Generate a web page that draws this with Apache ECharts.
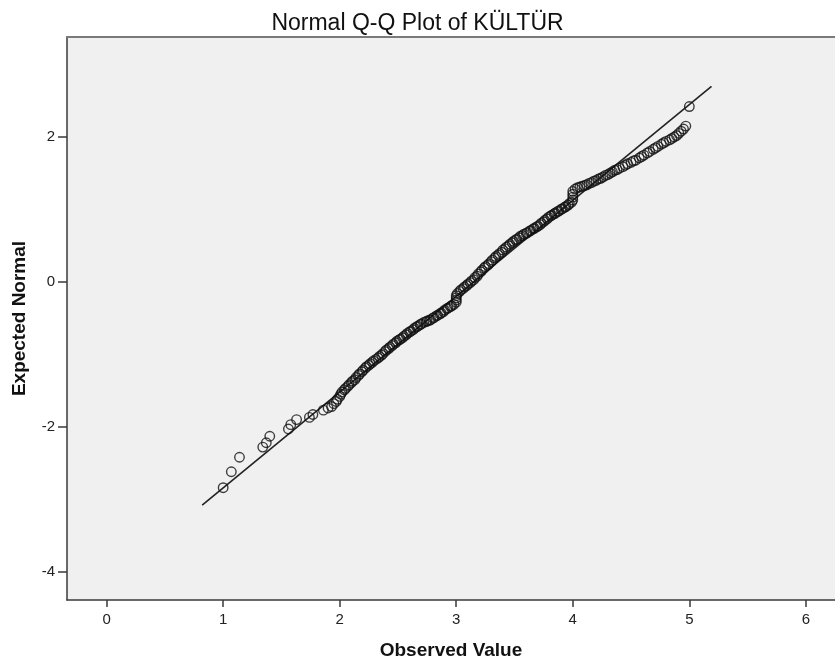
<!DOCTYPE html>
<html>
<head>
<meta charset="utf-8">
<script src="https://cdn.jsdelivr.net/npm/echarts@6/dist/echarts.min.js"></script>
<style>
html,body{margin:0;padding:0;background:#fff;}
#chart{width:835px;height:665px;}
</style>
</head>
<body>
<div id="chart"></div>
<script>
var titleText = "Normal Q-Q Plot of KÜLTÜR";
var xAxisTitle = "Observed Value";
var yAxisTitle = "Expected Normal";
var xTicks = [0, 1, 2, 3, 4, 5, 6];
var yTicks = [-4, -2, 0, 2];

var observed = [
  1.00,1.07,1.14,1.34,1.37,1.40,1.56,1.58,1.63,1.74,1.77,1.86,1.90,1.93,
  1.95,1.97,1.98,2.00,2.01,2.02,2.04,2.05,2.07,2.08,2.10,2.11,2.13,2.14,2.16,2.17,2.19,2.20,2.22,2.23,2.25,2.26,2.28,2.29,
  2.31,2.33,2.34,2.36,2.37,2.39,2.40,2.42,2.43,2.45,2.46,2.48,2.49,2.51,2.52,2.54,2.55,2.57,2.58,2.60,2.61,2.63,2.64,2.66,2.67,2.69,2.70,2.72,2.74,2.75,2.77,2.78,2.80,2.81,2.83,2.84,2.86,2.87,2.89,2.90,2.92,2.93,2.95,2.96,2.98,
  3.00,3.00,3.00,3.00,3.01,3.03,3.04,3.06,3.07,3.09,3.10,3.12,3.13,3.15,3.16,3.18,3.19,3.21,3.22,3.24,3.25,3.27,3.28,3.30,3.31,3.33,3.34,3.36,3.37,3.39,3.40,3.42,3.43,3.45,3.46,3.48,3.49,3.51,3.52,3.54,3.55,3.57,3.58,3.60,3.61,3.63,3.64,3.66,3.67,3.69,3.70,3.72,3.73,3.75,3.76,3.78,3.79,3.81,3.82,3.84,3.85,3.87,3.88,3.90,3.91,3.93,3.94,3.96,3.97,3.99,
  4.00,4.00,4.00,4.00,4.02,4.04,4.06,4.08,4.10,4.12,4.14,4.16,4.18,4.20,4.22,4.24,4.26,4.28,4.30,4.32,4.34,4.36,4.38,4.40,4.43,4.45,4.47,4.50,4.52,4.54,4.57,4.59,4.61,4.64,4.66,4.69,4.71,4.73,4.76,4.78,4.80,4.83,4.85,4.87,4.89,4.91,4.93,4.95,4.97,5.00
];
var expected = [
  -2.84,-2.62,-2.42,-2.28,-2.22,-2.13,-2.03,-1.97,-1.90,-1.87,-1.83,-1.77,-1.74,-1.72,
  -1.68,-1.65,-1.62,-1.58,-1.55,-1.52,-1.49,-1.47,-1.44,-1.42,-1.39,-1.37,-1.35,-1.32,-1.29,-1.27,-1.24,-1.22,-1.19,-1.17,-1.15,-1.13,-1.11,-1.09,
  -1.07,-1.05,-1.03,-1.01,-0.99,-0.96,-0.94,-0.92,-0.90,-0.88,-0.86,-0.84,-0.82,-0.80,-0.79,-0.77,-0.75,-0.73,-0.71,-0.69,-0.68,-0.66,-0.64,-0.62,-0.61,-0.59,-0.58,-0.56,-0.55,-0.54,-0.53,-0.52,-0.50,-0.49,-0.47,-0.46,-0.44,-0.43,-0.41,-0.39,-0.37,-0.36,-0.34,-0.33,-0.31,
  -0.28,-0.25,-0.22,-0.19,-0.16,-0.13,-0.11,-0.09,-0.07,-0.05,-0.03,-0.01,0.01,0.03,0.06,0.08,0.11,0.14,0.16,0.19,0.21,0.23,0.25,0.28,0.30,0.33,0.35,0.37,0.39,0.41,0.44,0.46,0.48,0.50,0.52,0.54,0.56,0.58,0.59,0.61,0.63,0.64,0.66,0.67,0.68,0.70,0.71,0.73,0.74,0.76,0.77,0.79,0.81,0.83,0.85,0.87,0.89,0.91,0.92,0.94,0.95,0.97,0.98,1.00,1.01,1.03,1.04,1.06,1.08,1.10,
  1.13,1.17,1.21,1.25,1.28,1.30,1.31,1.32,1.33,1.34,1.36,1.37,1.39,1.40,1.42,1.43,1.45,1.47,1.48,1.50,1.52,1.54,1.55,1.57,1.59,1.61,1.63,1.65,1.67,1.68,1.71,1.73,1.75,1.78,1.80,1.83,1.85,1.87,1.90,1.92,1.94,1.96,1.98,2.00,2.02,2.05,2.08,2.11,2.15,2.42
];
var lineX = [0.82, 5.19];
var lineY = [-3.08, 2.70];

var points = observed.map(function (v, i) { return [v, expected[i]]; });
var linePts = lineX.map(function (v, i) { return [v, lineY[i]]; });

var FONT = "'Liberation Sans', Arial, sans-serif";
var chart = echarts.init(document.getElementById('chart'), null, {renderer: 'canvas'});
chart.setOption({
  animation: false,
  backgroundColor: '#ffffff',
  title: {
    text: titleText,
    left: 'center',
    top: 7,
    textStyle: {fontFamily: FONT, fontSize: 23, fontWeight: 'normal', color: '#111'}
  },
  grid: {
    left: 67, right: 0, top: 37, bottom: 65,
    show: true, backgroundColor: '#f0f0f0', borderWidth: 0
  },
  xAxis: [{
    type: 'value', min: -0.34, max: 6.25,
    name: xAxisTitle, nameLocation: 'middle', nameGap: 41,
    nameTextStyle: {fontFamily: FONT, fontSize: 19, fontWeight: 'bold', color: '#111'},
    axisLine: {show: true, onZero: false, lineStyle: {color: '#3a3a3a', width: 1.5}},
    axisTick: {show: true, length: 7, customValues: xTicks, lineStyle: {color: '#3a3a3a', width: 1.5}},
    axisLabel: {margin: 12, customValues: xTicks, fontFamily: FONT, fontSize: 15, color: '#222'},
    splitLine: {show: false}
  }, {
    type: 'value', position: 'top', min: -0.34, max: 6.25,
    axisLine: {show: true, onZero: false, lineStyle: {color: '#7a7a7a', width: 2}},
    axisTick: {show: false}, axisLabel: {show: false}, splitLine: {show: false}
  }],
  yAxis: {
    type: 'value', min: -4.39, max: 3.38,
    name: yAxisTitle, nameLocation: 'middle', nameGap: 38, nameRotate: 90,
    nameTextStyle: {fontFamily: FONT, fontSize: 19, fontWeight: 'bold', color: '#111'},
    axisLine: {show: true, onZero: false, lineStyle: {color: '#3a3a3a', width: 1.5}},
    axisTick: {show: true, length: 9, customValues: yTicks, lineStyle: {color: '#3a3a3a', width: 1.5}},
    axisLabel: {margin: 12, customValues: yTicks, fontFamily: FONT, fontSize: 15, color: '#222'},
    splitLine: {show: false}
  },
  series: [{
    type: 'line',
    data: linePts,
    showSymbol: false,
    lineStyle: {color: '#222', width: 1.6},
    z: 2
  }, {
    type: 'scatter',
    data: points,
    symbol: 'circle',
    symbolSize: 9.5,
    itemStyle: {color: 'rgba(0,0,0,0)', borderColor: '#111', borderWidth: 1.4},
    z: 3
  }]
});
</script>
</body>
</html>
